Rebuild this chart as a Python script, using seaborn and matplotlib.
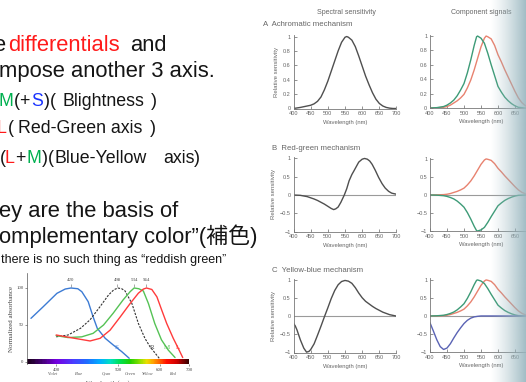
"""Slide: opponent colour axes, cone absorbance inset + mechanism panels."""
import numpy as np
import matplotlib
matplotlib.use("Agg")
import matplotlib.pyplot as plt
from matplotlib.colors import LinearSegmentedColormap, to_rgb
import seaborn as sns

W, H = 526, 382

# ---- inset: normalized absorbance of S / rod / M / L
s_nm  = [370, 384, 401, 412, 420, 430, 436, 446, 454, 461, 475, 490, 507, 523]
s_abs = [59, 74.7, 92.8, 98.6, 100, 99, 95, 81.5, 61, 45.5, 32, 23, 14, 5]
r_nm  = [400, 416, 434, 449, 466, 481, 491, 499, 507, 514, 529, 544, 560, 573, 591, 601]
r_abs = [34, 36.5, 45.5, 57, 75, 90.5, 97.5, 100, 99, 96, 79, 52, 32, 20.7, 9.5, 3.6]
m_nm  = [400, 416, 436, 454, 472, 490, 510, 525, 534, 545, 556, 569, 586, 605, 626, 648]
m_abs = [35.6, 33, 34, 38.7, 50, 66, 84, 95, 100, 99, 96, 79, 52, 30, 16, 6]
l_nm  = [400, 419, 449, 466, 484, 504, 525, 544, 556, 564, 578, 592, 606, 621, 642, 659, 675]
l_abs = [36.5, 33, 28.4, 32, 43, 61, 79, 93, 98.5, 100, 98, 88, 70, 52, 32, 18.5, 6]
peaks = [420, 498, 534, 564]
band_names = ["Violet", "Blue", "Cyan", "Green", "Yellow", "Red"]
band_nm    = [396, 432, 478, 525, 568, 641]

# ---- right panels: mechanisms and cone component signals
ach_nm  = [400, 420, 440, 450, 460, 470, 480, 490, 500, 510, 520, 530, 540, 550, 555,
           560, 570, 580, 590, 600, 610, 620, 630, 640, 650, 660, 670, 680, 690, 700]
ach_val = [0.0, 0.015, 0.035, 0.045, 0.065, 0.1, 0.16, 0.26, 0.38, 0.52, 0.66, 0.8, 0.92,
           0.99, 1.0, 0.99, 0.95, 0.86, 0.73, 0.59, 0.45, 0.33, 0.22, 0.13, 0.07, 0.035,
           0.015, 0.005, 0.0, 0.0]
rg_nm  = [400, 420, 440, 460, 470, 480, 490, 500, 510, 517, 523, 530, 538, 548, 555, 562,
          570, 576, 583, 590, 600, 607, 615, 622, 629, 638, 648, 658, 667, 677, 686, 700]
rg_val = [0, -0.01, -0.045, -0.11, -0.15, -0.2, -0.25, -0.31, -0.37, -0.4, -0.38, -0.33,
          -0.2, 0.0, 0.17, 0.39, 0.56, 0.66, 0.78, 0.9, 0.98, 1.0, 0.98, 0.93, 0.84, 0.68,
          0.48, 0.31, 0.19, 0.1, 0.05, 0.02]
yb_nm  = [400, 405, 410, 420, 430, 438, 445, 450, 460, 470, 480, 490, 500, 510, 520, 530,
          540, 550, 560, 570, 580, 590, 600, 610, 620, 630, 640, 650, 660, 670, 680, 690, 700]
yb_val = [-0.19, -0.26, -0.37, -0.65, -0.88, -0.99, -0.97, -0.92, -0.76, -0.52, -0.27,
          -0.01, 0.24, 0.5, 0.72, 0.88, 0.97, 1.0, 0.98, 0.92, 0.8, 0.65, 0.52, 0.42, 0.35,
          0.28, 0.22, 0.17, 0.12, 0.085, 0.05, 0.03, 0.01]
mc_nm  = [400, 420, 440, 450, 460, 470, 480, 490, 500, 510, 520, 530, 537, 540, 550, 560,
          570, 580, 590, 600, 610, 620, 630, 640, 650, 660, 680, 700]
mc_val = [0, 0.005, 0.02, 0.04, 0.07, 0.11, 0.17, 0.25, 0.34, 0.49, 0.67, 0.87, 0.99, 1.0,
          0.97, 0.9, 0.76, 0.6, 0.45, 0.3, 0.22, 0.15, 0.1, 0.06, 0.03, 0.01, 0.0, 0.0]
lc_nm  = [400, 420, 440, 450, 460, 470, 480, 490, 500, 510, 520, 530, 540, 550, 560, 565,
          570, 580, 590, 600, 610, 620, 630, 640, 650, 660, 670, 680, 690, 700]
lc_val = [0, 0.003, 0.01, 0.02, 0.04, 0.07, 0.1, 0.14, 0.19, 0.28, 0.39, 0.53, 0.69, 0.85,
          0.97, 1.0, 0.99, 0.96, 0.87, 0.74, 0.64, 0.53, 0.43, 0.33, 0.23, 0.14, 0.075,
          0.035, 0.01, 0.0]
sc_nm  = [400, 410, 420, 430, 440, 450, 460, 470, 480, 490, 500, 510, 520, 530, 540, 550, 700]
sc_val = [-0.19, -0.42, -0.66, -0.85, -0.93, -0.89, -0.77, -0.61, -0.46, -0.33, -0.21,
          -0.12, -0.06, -0.025, -0.01, 0, 0]

sns.set_style("ticks")
plt.rcParams["font.family"] = ["Liberation Sans", "Noto Sans CJK JP", "DejaVu Sans"]
plt.rcParams["axes.unicode_minus"] = True

fig = plt.figure(figsize=(W / 100, H / 100), dpi=100)


def box(x0, y0, x1, y1):
    return [x0 / W, 1 - y1 / H, (x1 - x0) / W, (y1 - y0) / H]


def put(x, y, s, **kw):
    kw.setdefault("va", "baseline")
    return fig.text(x / W, 1 - y / H, s, **kw)


# ---------------- slide text ----------------
RED, GRN, BLU, INK = "#ff1a1a", "#00b050", "#1a33ff", "#151515"
BIG, MID = 15.8, 12.8
for x, s, c in [(-7, "e", INK), (8, "differentials", RED), (130, "and", INK)]:
    put(x, 51, s, color=c, fontsize=BIG)
put(-1, 77, "mpose another 3 axis.", color=INK, fontsize=BIG)
for x, s, c in [(-1, "M", GRN), (14, "(", INK), (19, "+", INK), (31, "S", BLU), (44, ")", INK),
                (50, "(", INK), (62, "Blightness", INK), (151, ")", INK)]:
    put(x, 106, s, color=c, fontsize=MID)
for x, s, c in [(-3, "L", RED), (8, "(", INK), (18, "Red-Green axis", INK), (150, ")", INK)]:
    put(x, 133.5, s, color=c, fontsize=MID)
for x, s, c in [(0, "(", INK), (5, "L", RED), (15, "+", INK), (26, "M", GRN), (42, ")", INK),
                (48, "(", INK), (55, "Blue-Yellow", INK), (163, "axis", INK), (194, ")", INK)]:
    put(x, 163, s, color=c, fontsize=MID)
put(-1, 217, "ey are the basis of", color=INK, fontsize=BIG)
put(-1, 243, "omplementary color\u201d(補色)", color=INK, fontsize=BIG)
put(1, 263, "there is no such thing as \u201creddish green\u201d", color=INK, fontsize=9)

# ---------------- absorbance inset (1/wavelength axis) ----------------
serif = "Liberation Serif"
ax = fig.add_axes(box(27.3, 273.2, 189.3, 364.2))
ax.set_xscale("function", functions=(lambda x: -1000.0 / x, lambda y: -1000.0 / y))
ax.set_xlim(366, 700)
ax.set_ylim(-3, 120)

stops = [(366, "#1a001a"), (384, "#4a0080"), (400, "#7400e0"), (423, "#4a3cff"),
         (444, "#1e6eff"), (466, "#00b0ff"), (484, "#00e0c0"), (504, "#00e050"),
         (525, "#20d000"), (548, "#90e000"), (564, "#e8e000"), (582, "#ffa000"),
         (600, "#ff6000"), (621, "#ff1000"), (653, "#d00000"), (690, "#500000"),
         (700, "#300000")]
spec = LinearSegmentedColormap.from_list(
    "spec", [((w - 366) / 334, c) for w, c in stops])
edges = np.arange(366, 701, 1.0)
ax.pcolormesh(edges, [-3, 3.6], (edges[:-1] + 0.5)[None, :], cmap=spec,
              vmin=366, vmax=700, shading="flat", zorder=1)

sns.lineplot(x=s_nm, y=s_abs, ax=ax, color="#3c7bd4", lw=1.0, zorder=3)
sns.lineplot(x=r_nm, y=r_abs, ax=ax, color="#333333", lw=0.8, linestyle=(0, (2, 1.2)), zorder=3)
sns.lineplot(x=m_nm, y=m_abs, ax=ax, color="#55c255", lw=1.0, zorder=3)
sns.lineplot(x=l_nm, y=l_abs, ax=ax, color="#ff3b3b", lw=1.0, zorder=3)

ax.vlines(peaks, 102, 106, color="#666666", lw=0.4)
for p in peaks:
    ax.text(p, 108, str(p), ha="center", va="bottom", fontsize=3.5, family=serif, color="#444444")
for lab, x, col in [("S", 497, "#3c7bd4"), ("R", 580, "#444444"),
                    ("M", 621, "#55c255"), ("L", 659, "#ff3b3b")]:
    ax.text(x, 19, lab, ha="center", va="center", fontsize=5, family=serif, color=col)
for name, x in zip(band_names, band_nm):
    ax.text(x, -0.11, name, transform=ax.get_xaxis_transform(), ha="center", va="center",
            fontsize=3.2, family=serif, style="italic", color="#555555")

ax.set_xticks([400, 500, 600, 700])
ax.set_xticks([], minor=True)
ax.set_yticks([0, 50, 100])
ax.tick_params(direction="out", length=1.5, width=0.4, labelsize=3.5, pad=1.2,
               colors="#444444", labelfontfamily=serif)
sns.despine(ax=ax, top=True, right=True, bottom=True)
ax.spines["left"].set_linewidth(0.5)
ax.spines["left"].set_color("#555555")
ax.set_ylabel("Normalized absorbance", fontsize=5, family=serif, color="#444444", labelpad=2)
ax.set_xlabel("Wavelength (nm)", fontsize=4.5, family=serif, color="#444444", labelpad=6)
ax.patch.set_alpha(0)

# ---------------- mechanism / component panels ----------------
GREY = "#666666"
C_GRN, C_RED, C_BLU, C_MECH = "#3d9b77", "#e8826f", "#5a63b4", "#4f4f4f"


def panel(rect, signed, ylabel):
    a = fig.add_axes(rect)
    a.set_xlim(400, 700)
    if signed:
        a.set_ylim(-1, 1.04)
        a.set_yticks([-1, -0.5, 0, 0.5, 1])
        a.set_yticklabels(["\u22121", "\u22120.5", "0", "0.5", "1"])
        a.axhline(0, color="#9a9a9a", lw=0.8, zorder=1)
    else:
        a.set_ylim(0, 1.02)
        a.set_yticks([0, 0.2, 0.4, 0.6, 0.8, 1])
        a.set_yticklabels(["0", "0.2", "0.4", "0.6", "0.8", "1"])
    a.set_xticks(range(400, 701, 50))
    sns.despine(ax=a)
    for sp in ("left", "bottom"):
        a.spines[sp].set_color("#777777")
        a.spines[sp].set_linewidth(0.6)
    a.tick_params(direction="in", length=2, width=0.5, labelsize=4, pad=2, colors=GREY)
    a.set_xlabel("Wavelength (nm)", fontsize=4.2, color=GREY, labelpad=2.5)
    if ylabel:
        a.set_ylabel("Relative sensitivity", fontsize=4.3, color=GREY, labelpad=3)
    a.patch.set_alpha(0)
    return a


a = panel(box(293.5, 35.1, 396.5, 108.5), False, True)
sns.lineplot(x=ach_nm, y=ach_val, ax=a, color=C_MECH, lw=1.0)
a = panel(box(430, 34.6, 532, 108), False, False)
sns.lineplot(x=lc_nm, y=lc_val, ax=a, color=C_RED, lw=1.0)
sns.lineplot(x=mc_nm, y=mc_val, ax=a, color=C_GRN, lw=1.0)

a = panel(box(293.5, 157, 396.5, 231.5), True, True)
sns.lineplot(x=rg_nm, y=rg_val, ax=a, color=C_MECH, lw=1.0)
a = panel(box(430, 157.5, 532, 231), True, False)
sns.lineplot(x=lc_nm, y=lc_val, ax=a, color=C_RED, lw=1.0)
sns.lineplot(x=mc_nm, y=[-v for v in mc_val], ax=a, color=C_GRN, lw=1.0)

a = panel(box(293.5, 279, 396.5, 352.5), True, True)
sns.lineplot(x=yb_nm, y=yb_val, ax=a, color=C_MECH, lw=1.0)
a = panel(box(430, 278.5, 532, 352), True, False)
sns.lineplot(x=lc_nm, y=lc_val, ax=a, color=C_RED, lw=1.0)
sns.lineplot(x=mc_nm, y=mc_val, ax=a, color=C_GRN, lw=1.0)
sns.lineplot(x=sc_nm, y=sc_val, ax=a, color=C_BLU, lw=1.0)

put(346, 12, "Spectral sensitivity", ha="center", va="center", fontsize=5, color=GREY)
put(481, 12, "Component signals", ha="center", va="center", fontsize=5, color=GREY)
put(263, 25, "A  Achromatic mechanism", va="center", fontsize=5.6, color=GREY)
put(272, 148, "B  Red-green mechanism", va="center", fontsize=5.6, color=GREY)
put(272, 270, "C  Yellow-blue mechanism", va="center", fontsize=5.6, color=GREY)

# page shadow along the right edge
sh = fig.add_axes(box(490, 0, 526, 382))
sh.set_zorder(20)
t = np.linspace(0, 1, 60) ** 1.3
rgba = np.zeros((1, 60, 4))
rgba[..., :3] = to_rgb("#98b6bf")
rgba[..., 3] = 0.9 * t
sh.imshow(rgba, aspect="auto", extent=[0, 1, 0, 1])
sh.axis("off")

fig.savefig("out.png", dpi=100)
